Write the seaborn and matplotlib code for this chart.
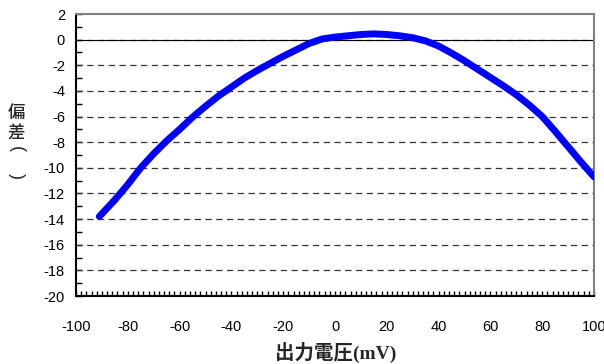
import matplotlib
matplotlib.use("Agg")
import matplotlib.pyplot as plt
import seaborn as sns
from matplotlib.ticker import MultipleLocator

# Output voltage (mV) and deviation
voltage = [-91, -85, -80, -75, -70, -65, -60, -55, -50, -45, -40, -35, -30,
           -25, -20, -15, -10, -5, 0, 5, 10, 15, 20, 25, 30, 35, 40, 45,
           50, 55, 60, 65, 70, 75, 80, 85, 90, 95, 100]
deviation = [-13.8, -12.5, -11.3, -10.0, -8.9, -7.9, -7.0, -6.05, -5.2, -4.4,
             -3.7, -3.0, -2.4, -1.85, -1.3, -0.8, -0.3, 0.05, 0.2, 0.3, 0.4,
             0.45, 0.4, 0.3, 0.15, -0.1, -0.5, -1.05, -1.65, -2.3, -2.95,
             -3.6, -4.3, -5.1, -6.0, -7.15, -8.35, -9.55, -10.7]

x_ticks = list(range(-100, 101, 20))
y_ticks = list(range(-20, 3, 2))
grid_levels = list(range(-18, 1, 2))
y_label_chars = ['偏', '差', '(', ')']

sns.set_style("white")
plt.rcParams['font.family'] = ['Liberation Sans', 'Noto Sans CJK JP']
plt.rcParams['axes.unicode_minus'] = False

fig = plt.figure(figsize=(6.04, 3.64), dpi=100)
ax = fig.add_axes([76 / 604, 1 - 296 / 364, 518 / 604, 282 / 364])

# dashed horizontal grid plus solid zero line
for lvl in grid_levels:
    ax.axhline(lvl, color='#333333', lw=0.9, ls=(0, (5, 3.6)), zorder=1)
ax.axhline(0, color='black', lw=0.8, zorder=1)

sns.lineplot(x=voltage, y=deviation, ax=ax, color='#0000ff', lw=5,
             solid_capstyle='round', solid_joinstyle='round', zorder=3)

ax.set_xlim(-100, 100)
ax.set_ylim(-20, 2)
ax.set_xticks(x_ticks)
ax.set_yticks(y_ticks)
ax.minorticks_on()
ax.xaxis.set_minor_locator(MultipleLocator(2))
ax.yaxis.set_minor_locator(MultipleLocator(1))
ax.tick_params(axis='x', which='both', direction='in', length=3.5, width=1,
               pad=17, labelsize=10.5, colors='black', bottom=True, top=False)
ax.tick_params(axis='y', which='both', direction='in', length=4, width=1,
               pad=8, labelsize=10.5, colors='black', left=True, right=False)

for side in ['left', 'bottom']:
    ax.spines[side].set_color('black')
    ax.spines[side].set_linewidth(1.5)
for side in ['top', 'right']:
    ax.spines[side].set_color('#808080')
    ax.spines[side].set_linewidth(1.5)

fig.text(0.555, 1 - 352 / 364, '出力電圧(mV)', ha='center', va='center',
         fontsize=14, fontweight='bold',
         family=['Liberation Serif', 'Noto Sans CJK JP'])

# vertical y label: kanji upright, brackets turned as in vertical writing
for ch, ypix in zip(y_label_chars, [113, 134, 149, 176]):
    if ch in '()':
        fig.text(16 / 604, 1 - ypix / 364, ch, ha='center', va='center',
                 rotation=-90, fontsize=13, family=['Liberation Sans'])
    else:
        fig.text(16 / 604, 1 - ypix / 364, ch, ha='center', va='center',
                 fontsize=12.5, fontweight='medium',
                 family=['Noto Sans CJK JP'])

fig.savefig('out.png', dpi=100)
